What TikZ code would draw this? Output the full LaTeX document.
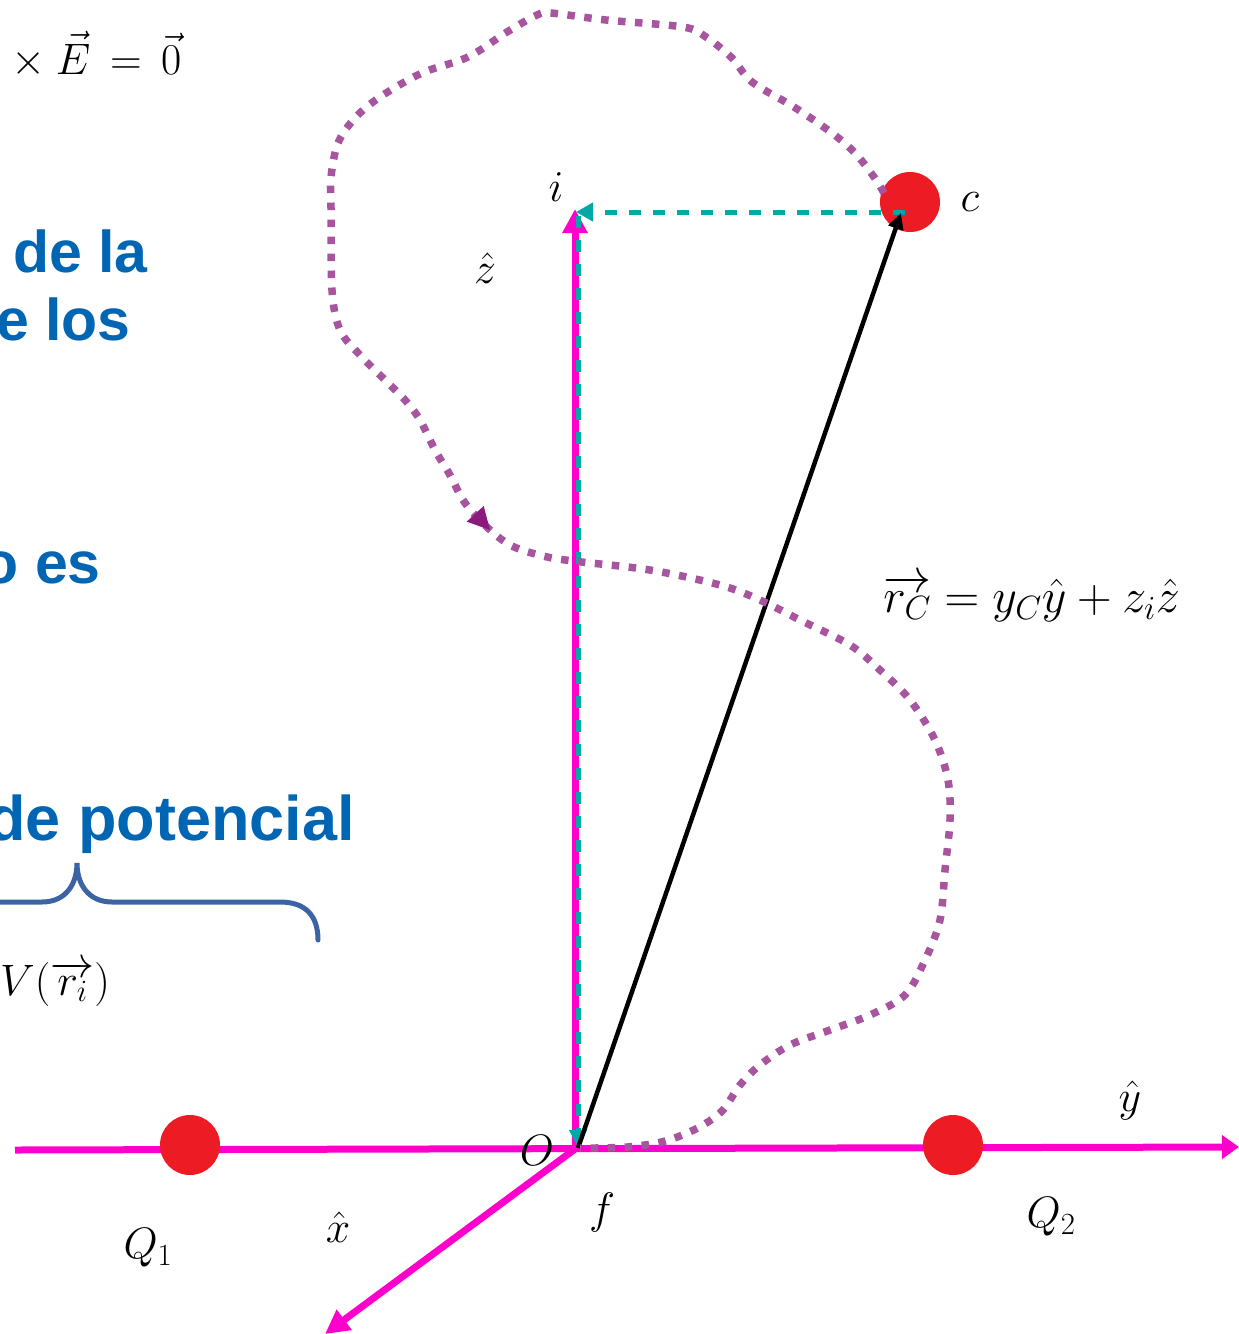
\RequirePackage{fix-cm}
\documentclass[tikz,border=0pt]{standalone}
\usepackage{fontspec}
\newfontfamily\arialfont{Liberation Sans}
\usetikzlibrary{arrows.meta}
\definecolor{axmag}{RGB}{255,0,204}
\definecolor{tealc}{RGB}{0,168,168}
\definecolor{dotpurple}{RGB}{168,85,160}
\definecolor{arrpurple}{RGB}{140,26,125}
\definecolor{chargered}{RGB}{237,28,36}
\definecolor{txtblue}{RGB}{0,102,180}
\definecolor{bracec}{RGB}{60,100,165}
\tikzset{
  axisline/.style={draw=axmag, line width=7pt},
  chargedot/.style={circle, fill=chargered, minimum size=60pt, inner sep=0pt},
  tealdash/.style={draw=tealc, line width=5pt, dash pattern=on 12pt off 12pt},
  blackarr/.style={draw=black, line width=4.5pt, -{Triangle[length=16pt,width=15pt]}},
  dotpath/.style={draw=dotpurple, line width=7.5pt, dash pattern=on 7.5pt off 9.5pt},
  mlab/.style={inner sep=0pt, font=\fontsize{44}{52}\selectfont},
  bluetext/.style={inner sep=0pt, text=txtblue, font=\arialfont\bfseries\fontsize{59}{70}\selectfont},
  bracestyle/.style={draw=bracec, line width=5pt, line cap=round}
}
\begin{document}
\begin{tikzpicture}[x=1pt,y=-1pt]
\useasboundingbox (0,0) rectangle (1239,1334);
\clip (0,0) rectangle (1239,1334);

% named points
\coordinate (O) at (575,1149);
\coordinate (Zend) at (575,209);
\coordinate (Yleft) at (15,1150);
\coordinate (Yend) at (1239,1147);
\coordinate (Xend) at (325,1334);
\coordinate (cfoot) at (905,212);
\coordinate (Itip) at (576,212);
\coordinate (Itop) at (578,216);
\coordinate (Obot) at (578,1147);
\coordinate (Oblk) at (578,1148);
\coordinate (ctip) at (901,213);

% axes
\draw[axisline, -{Triangle[length=17pt,width=23pt]}] (Yleft) -- (Yend);
\draw[axisline, -{Triangle[length=24pt,width=24pt]}] (O) -- (Zend);
\draw[axisline, -{Triangle[length=24pt,width=24pt]}] (O) -- (Xend);

% charges
\node[chargedot] (Q1dot) at (190,1145) {};
\node[chargedot] (Q2dot) at (953,1145) {};
\node[chargedot] (cdot) at (910,202) {};

% teal projections
\draw[tealdash, -{Triangle[length=17pt,width=18pt]}] (cfoot) -- (Itip);
\draw[tealdash, -{Triangle[length=17pt,width=17pt]}] (Itop) -- (Obot);

% position vector
\draw[blackarr] (Oblk) -- (ctip);

% closed path
\draw[dotpath] plot[smooth, tension=0.55] coordinates {
 (884,193) (874,177) (855,153) (832,133) (794,107) (752,82) (732,58) (706,37)
 (683,27) (606,20) (551,13) (537,15) (507,32) (468,57) (422,73) (380,97)
 (355,118) (338,143) (331,177) (331,208) (332,290) (340,330) (360,355)
 (385,380) (405,400) (420,420) (435,450) (450,475) (465,503) (489,529)
 (512,546) (543,556) (573,561) (650,570) (720,585) (760,600)
 (800,620) (850,645) (880,670) (910,700) (935,740) (948,780) (950,820)
 (945,870) (940,920) (925,960) (905,995) (870,1015) (830,1030) (790,1045)
 (760,1065) (740,1085) (723,1110) (703,1125) (680,1136) (657,1143)
 (627,1147) (595,1148) (580,1148)};
\fill[arrpurple] (490,530) -- (483.7,506) -- (466.7,521.6) -- cycle;

% math labels
\node[mlab] (ilab) at (556,187) {$i$};
\node[mlab] (zhat) at (485,268) {$\hat{z}$};
\node[mlab] (clab) at (970,202) {$c$};
\node[mlab, font=\fontsize{48}{56}\selectfont, anchor=base west] (rclab) at (883,612) {$\overrightarrow{r_C} = y_C\hat{y} + z_i\hat{z}$};
\node[mlab] (Olab) at (537,1150) {$O$};
\node[mlab] (flab) at (602,1212) {$f$};
\node[mlab] (Q1lab) at (148,1248) {$Q_1$};
\node[mlab] (xhat) at (338,1227) {$\hat{x}$};
\node[mlab] (Q2lab) at (1051,1217) {$Q_2$};
\node[mlab] (yhat) at (1130,1100) {$\hat{y}$};
\node[mlab, font=\fontsize{44}{52}\selectfont, anchor=base west] (curl) at (2,74) {${}\times\vec{E} \mathrel{\,=\,} \vec{0}$};
\node[mlab, anchor=base west] (Vlab) at (0,995) {$V(\overrightarrow{r_i})$};

% blue text
\node[bluetext, anchor=base east] (t1) at (148,272) {de la};
\node[bluetext, anchor=base east] (t2) at (131,340) {e los};
\node[bluetext, anchor=base east] (t3) at (101,583) {o es};
\node[bluetext, font=\arialfont\bfseries\fontsize{63}{74}\selectfont, anchor=base east] (t4) at (355,840) {de potencial};

% brace
\draw[bracestyle] (-5,902) -- (42,902) .. controls (65,902) and (77,885) .. (77,863)
  .. controls (77,885) and (89,902) .. (112,902) -- (280,902)
  .. controls (305,902) and (318,915) .. (318,940);
\end{tikzpicture}
\end{document}
